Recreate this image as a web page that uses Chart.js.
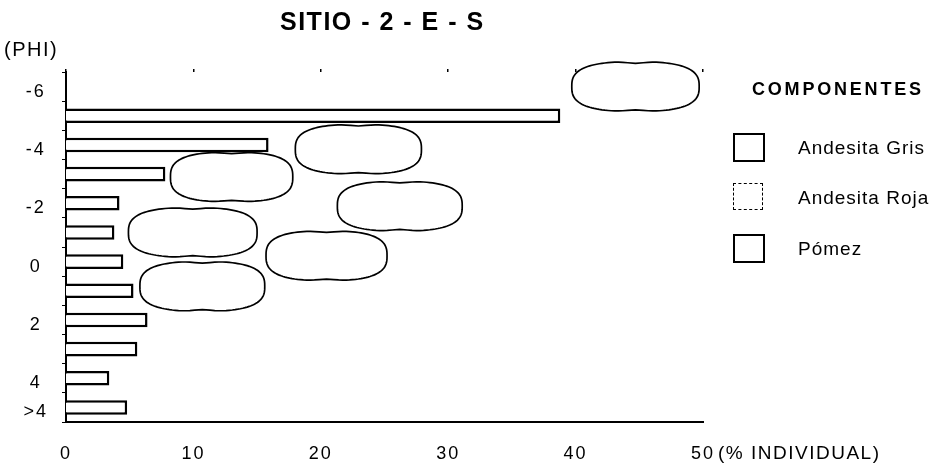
<!DOCTYPE html>
<html lang="es">
<head>
<meta charset="utf-8">
<title>SITIO - 2 - E - S</title>
<script src="https://cdn.jsdelivr.net/npm/chart.js@4.4.1/dist/chart.umd.min.js"></script>
<style>
    html, body { margin: 0; padding: 0; background: #fff; }
    #wrap { position: relative; width: 940px; height: 468px; font-family: 'Liberation Sans', Arial, sans-serif; color: #000; }
    #granChart { position: absolute; left: 0; top: 0; }
    .txt { position: absolute; white-space: nowrap; line-height: 1; }
    .title { left: 280px; top: 9px; font-size: 25px; font-weight: bold; letter-spacing: 1.5px; }
    .phi { left: 4px; top: 39px; font-size: 20px; letter-spacing: 1.5px; }
    .unit { left: 718px; top: 443px; font-size: 19px; letter-spacing: 1.5px; }
    .legend-head { left: 752px; top: 80px; font-size: 18px; font-weight: bold; letter-spacing: 2.8px; }
    .swatch { position: absolute; left: 733px; width: 28px; height: 25px; border: 2px solid #000; background: #fff; }
    .swatch.dashed { border-style: dashed; border-width: 1.5px; }
    .swatch.heavy { border-width: 2.5px; }
    .legend-item { left: 798px; font-size: 19px; letter-spacing: 1px; }
</style>
</head>
<body>
<div id="wrap">
    <canvas id="granChart" width="940" height="468"></canvas>
    <div class="txt title">SITIO - 2 - E - S</div>
    <div class="txt phi">(PHI)</div>
    <div class="txt unit">(% INDIVIDUAL)</div>
    <div class="txt legend-head">COMPONENTES</div>
    <div class="swatch" style="top:133px"></div>
    <div class="txt legend-item" style="top:138px">Andesita Gris</div>
    <div class="swatch dashed" style="top:183px"></div>
    <div class="txt legend-item" style="top:188px">Andesita Roja</div>
    <div class="swatch heavy" style="top:234px"></div>
    <div class="txt legend-item" style="top:239px">Pómez</div>
</div>

<script>
    // Grain-size classes (phi) and the ones that get a tick label
    const phiClasses = ['-6', '-5', '-4', '-3', '-2', '-1', '0', '1', '2', '3', '4', '>4'];
    const phiLabels = ['-6', '-4', '-2', '0', '2', '4', '>4'];

    // % individual per class
    const andesitaGris = [null, 38.8, 15.9, 7.8, 4.2, 3.8, 4.5, 5.3, 6.4, 5.6, 3.4, 4.8];

    // Outlined clusters: class row (index), start and end in %
    const blobRow = [0.0, 2.15, 3.1, 4.1, 5.0, 5.8, 6.85];
    const blobFrom = [39.7, 18.0, 8.2, 21.3, 4.9, 15.7, 5.8];
    const blobTo = [49.7, 27.9, 17.8, 31.1, 15.0, 25.2, 15.6];

    const xMax = 50;
    const xStep = 10;

    const FONT = "'Liberation Sans', Arial, sans-serif";

    // wide-set figures on the axes
    const spacingPlugin = {
        id: 'spacing',
        beforeDraw(chart) {
            chart.ctx.letterSpacing = '2px';
        }
    };

    // cushion-shaped outlines drawn over the bars
    const blobPlugin = {
        id: 'blobs',
        afterDatasetsDraw(chart) {
            const ctx = chart.ctx;
            const xs = chart.scales.x;
            const ys = chart.scales.y;
            ctx.save();
            ctx.lineWidth = 1.7;
            ctx.strokeStyle = '#000';
            ctx.fillStyle = '#fff';
            blobRow.forEach((row, i) => {
                const x1 = xs.getPixelForValue(blobFrom[i]);
                const x2 = xs.getPixelForValue(blobTo[i]);
                const cy = ys.getPixelForValue(row);
                const b = Math.abs(ys.getPixelForValue(row + 0.85) - cy);
                const cx = (x1 + x2) / 2;
                const a = (x2 - x1) / 2;
                const n = 2.8;
                ctx.beginPath();
                for (let k = 0; k <= 120; k++) {
                    const t = (k / 120) * Math.PI * 2;
                    const c = Math.cos(t), s = Math.sin(t);
                    // slight waist at the middle of top and bottom edges
                    const pinch = 1 - 0.06 * Math.pow(Math.abs(c) < 0.25 ? 1 - Math.abs(c) / 0.25 : 0, 2);
                    const px = cx + a * Math.sign(c) * Math.pow(Math.abs(c), 2 / n);
                    const py = cy + b * pinch * Math.sign(s) * Math.pow(Math.abs(s), 2 / n);
                    if (k === 0) ctx.moveTo(px, py); else ctx.lineTo(px, py);
                }
                ctx.closePath();
                ctx.fill();
                ctx.stroke();
            });
            ctx.restore();
        }
    };

    function init() {
        if (typeof Chart === 'undefined') {
            console.error('Chart.js not loaded');
            return;
        }

        Chart.defaults.font.family = FONT;
        Chart.defaults.color = '#000';

        new Chart(document.getElementById('granChart'), {
            type: 'bar',
            data: {
                labels: phiClasses,
                datasets: [{
                    label: 'Andesita Gris',
                    data: andesitaGris,
                    backgroundColor: '#fff',
                    borderColor: '#000',
                    borderWidth: 2.5,
                    barPercentage: 0.5,
                    categoryPercentage: 1
                }]
            },
            options: {
                indexAxis: 'y',
                responsive: false,
                devicePixelRatio: 1,
                animation: false,
                layout: { padding: { top: 69, right: 237, bottom: 0, left: 0 } },
                plugins: {
                    legend: { display: false },
                    tooltip: { enabled: false }
                },
                scales: {
                    x: {
                        type: 'linear',
                        position: 'bottom',
                        min: 0,
                        max: xMax,
                        ticks: { stepSize: xStep, font: { size: 18 }, padding: 13, color: '#000' },
                        grid: { display: false },
                        border: { display: true, color: '#000', width: 2 },
                        afterFit(scale) { scale.height = 46; }
                    },
                    xTop: {
                        type: 'linear',
                        position: 'top',
                        min: 0,
                        max: xMax,
                        ticks: { display: false, stepSize: xStep },
                        grid: { drawOnChartArea: false, tickLength: 3, color: '#000', lineWidth: 1.5 },
                        border: { display: false },
                        afterFit(scale) { scale.height = 3; }
                    },
                    y: {
                        type: 'category',
                        offset: true,
                        ticks: {
                            autoSkip: false,
                            font: { size: 18 },
                            color: '#000',
                            padding: 16,
                            labelOffset: 5,
                            crossAlign: 'center',
                            callback(value, index) {
                                const name = phiClasses[index];
                                return phiLabels.includes(name) ? name : '';
                            }
                        },
                        grid: { drawOnChartArea: false, tickLength: 4, color: '#000', lineWidth: 1 },
                        border: { display: true, color: '#000', width: 2 },
                        afterFit(scale) { scale.width = 66; }
                    }
                }
            },
            plugins: [spacingPlugin, blobPlugin]
        });
    }

    if (document.readyState === 'loading') {
        document.addEventListener('DOMContentLoaded', init);
    } else {
        init();
    }
</script>
</body>
</html>
